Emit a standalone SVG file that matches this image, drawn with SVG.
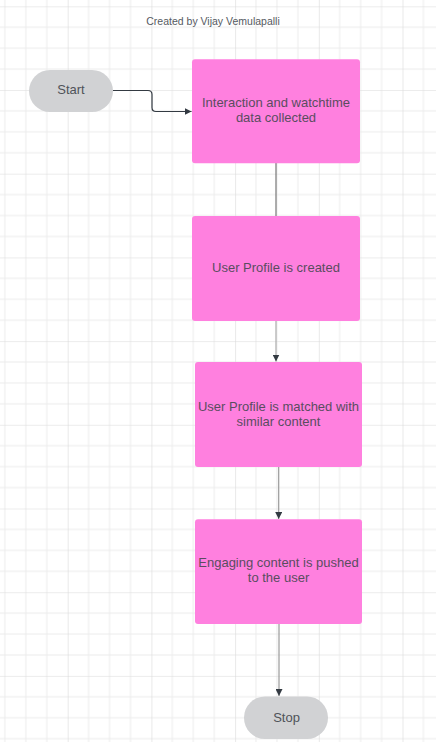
<svg xmlns="http://www.w3.org/2000/svg" width="436" height="742" viewBox="0 0 436 742">
<defs>
<pattern id="grid" patternUnits="userSpaceOnUse" x="67.7" y="6.3" width="83.7" height="83.7">
<path d="M20.9 0V83.7M41.85 0V83.7M62.8 0V83.7M0 20.9H83.7M0 41.85H83.7M0 62.8H83.7" stroke="#ececec" stroke-width="1" fill="none"/>
<path d="M0 0V83.7M0 0H83.7" stroke="#dadada" stroke-width="1.2" fill="none"/>
</pattern>
<marker id="arr" viewBox="0 0 10 10" refX="10" refY="5" markerWidth="7" markerHeight="7" markerUnits="userSpaceOnUse" orient="auto">
<path d="M0 0L10 5L0 10Z" fill="#333a42"/>
</marker>
</defs>
<style>
.box{fill:#ff80df}
.term{fill:#d1d2d4}
.t{font-family:"Liberation Sans",Arial,sans-serif;font-size:13px;fill:#5a4d5f;text-anchor:middle}
.tt{font-family:"Liberation Sans",Arial,sans-serif;font-size:13px;fill:#4f5359;text-anchor:middle}
.ln{fill:none;stroke-width:1.2}
</style>
<rect width="436" height="742" fill="#ffffff"/>
<rect width="436" height="742" fill="url(#grid)"/>
<text x="213" y="25" font-family="Liberation Sans, Arial, sans-serif" font-size="10.5" fill="#555a61" text-anchor="middle">Created by Vijay Vemulapalli</text>
<g id="connectors">
<path class="ln" d="M113 90.5H148Q152 90.5 152 94.5V107.5Q152 111.5 156 111.5H191.5" stroke="#333a42" marker-end="url(#arr)"/>
<path class="ln" d="M276 163V216" stroke="#777"/>
<path class="ln" d="M276 321V361.5" stroke="#aaa" marker-end="url(#arr)"/>
<path class="ln" d="M278.7 467V519" stroke="#999" marker-end="url(#arr)"/>
<path class="ln" d="M279 624V696" stroke="#999" marker-end="url(#arr)"/>
</g>
<g id="start">
<rect class="term" x="29" y="70" width="84" height="42" rx="21"/>
<text class="tt" x="71" y="94">Start</text>
</g>
<g id="n1">
<rect class="box" x="192" y="59.3" width="168" height="104" rx="3"/>
<text class="t" x="276" y="106.5">Interaction and watchtime</text>
<text class="t" x="276" y="122">data collected</text>
</g>
<g id="n2">
<rect class="box" x="192" y="216" width="168" height="105" rx="3"/>
<text class="t" x="276" y="271.5">User Profile is created</text>
</g>
<g id="n3">
<rect class="box" x="195" y="362" width="167" height="105" rx="3"/>
<text class="t" x="278.5" y="410.5">User Profile is matched with</text>
<text class="t" x="278.5" y="426">similar content</text>
</g>
<g id="n4">
<rect class="box" x="195" y="519.3" width="167" height="104.7" rx="3"/>
<text class="t" x="278.5" y="566.5">Engaging content is pushed</text>
<text class="t" x="278.5" y="582">to the user</text>
</g>
<g id="stop">
<rect class="term" x="244" y="696.5" width="84" height="42.5" rx="21"/>
<text class="tt" x="286.5" y="721.5">Stop</text>
</g>
</svg>
